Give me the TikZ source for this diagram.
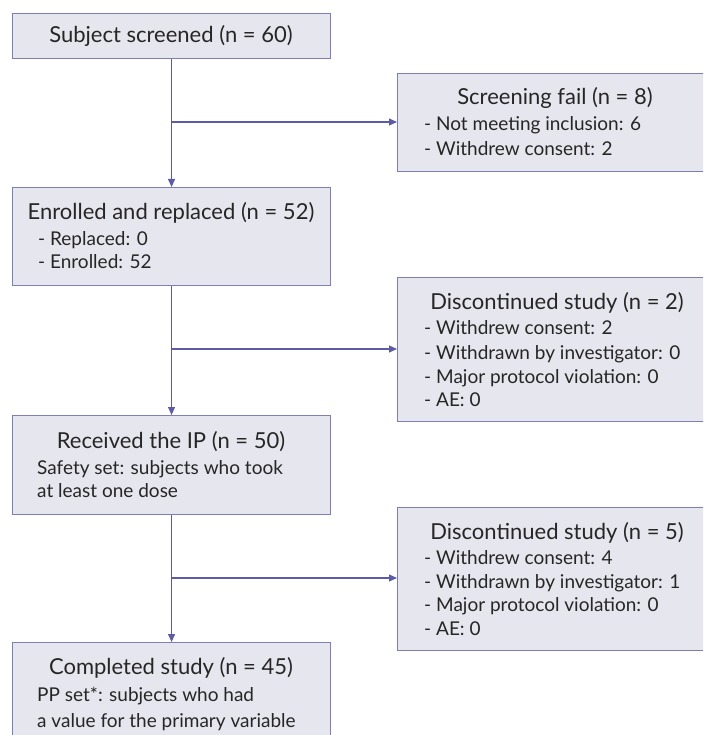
\documentclass[tikz,border=0pt]{standalone}
\usepackage{fontspec}
\setmainfont{Lato}
\usetikzlibrary{arrows.meta}
\definecolor{boxfill}{HTML}{E6E6EE}
\definecolor{boxline}{HTML}{7F7DB8}
\definecolor{arrcol}{HTML}{5E5BA6}
\definecolor{txt}{HTML}{262626}
\tikzset{
  box/.style={draw=boxline, fill=boxfill, line width=1.1pt, rectangle, inner sep=0pt},
  title/.style={anchor=base, text=txt, font=\fontsize{22}{24}\selectfont, inner sep=0pt},
  item/.style={anchor=base west, text=txt, font=\fontsize{19}{22}\selectfont, inner sep=0pt},
  arr/.style={draw=arrcol, line width=1.1pt, -{Triangle[length=8pt,width=7pt]}},
  ln/.style={draw=arrcol, line width=1.1pt}
}
\begin{document}
\begin{tikzpicture}[x=1pt,y=1pt]
\useasboundingbox (0,0) rectangle (703,-735);
\begin{scope}
\clip (0,0) rectangle (703,-735);
% left column boxes
\node[box, minimum width=318pt, minimum height=45pt, anchor=north west] (b1) at (12,-13) {};
\node[box, minimum width=318pt, minimum height=98pt, anchor=north west] (b2) at (12,-187) {};
\node[box, minimum width=318pt, minimum height=99pt, anchor=north west] (b3) at (12,-415) {};
\node[box, minimum width=318pt, minimum height=110pt, anchor=north west] (b4) at (12,-642) {};
% right column boxes
\node[box, minimum width=320pt, minimum height=98pt, anchor=north west] (r1) at (397,-73) {};
\node[box, minimum width=320pt, minimum height=144pt, anchor=north west] (r2) at (397,-277) {};
\node[box, minimum width=320pt, minimum height=143pt, anchor=north west] (r3) at (397,-507) {};
\end{scope}

% texts
\node[title] (t1) at (171,-43) {Subject screened (n = 60)};
\node[title] (t2) at (171,-219) {Enrolled and replaced (n = 52)};
\node[item] (t2a) at (38,-245) {- Replaced: 0};
\node[item] (t2b) at (38,-268) {- Enrolled: 52};
\node[title] (t3) at (171,-448) {Received the IP (n = 50)};
\node[item] (t3a) at (37,-474) {Safety set: subjects who took};
\node[item] (t3b) at (37,-497) {at least one dose};
\node[title] (t4) at (171,-674) {Completed study (n = 45)};
\node[item] (t4a) at (37,-701) {PP set*: subjects who had};
\node[item] (t4b) at (37,-727) {a value for the primary variable};

\node[title] (s1) at (555,-105) {Screening fail (n = 8)};
\node[item] (s1a) at (424,-131) {- Not meeting inclusion: 6};
\node[item] (s1b) at (424,-156) {- Withdrew consent: 2};

\node[title] (s2) at (557,-309) {Discontinued study (n = 2)};
\node[item] (s2a) at (424,-334) {- Withdrew consent: 2};
\node[item] (s2b) at (424,-359) {- Withdrawn by investigator: 0};
\node[item] (s2c) at (424,-383) {- Major protocol violation: 0};
\node[item] (s2d) at (424,-406) {- AE: 0};

\node[title] (s3) at (557,-539) {Discontinued study (n = 5)};
\node[item] (s3a) at (424,-564) {- Withdrew consent: 4};
\node[item] (s3b) at (424,-588) {- Withdrawn by investigator: 1};
\node[item] (s3c) at (424,-611) {- Major protocol violation: 0};
\node[item] (s3d) at (424,-635) {- AE: 0};

% connectors
\coordinate (j1) at (171,-122);
\coordinate (j2) at (171,-349);
\coordinate (j3) at (171,-578);
\draw[arr] (b1.south) -- (b2.north);
\draw[arr] (j1) -- (r1.west |- j1);
\draw[arr] (b2.south) -- (b3.north);
\draw[arr] (j2) -- (r2.west |- j2);
\draw[arr] (b3.south) -- (b4.north);
\draw[arr] (j3) -- (r3.west |- j3);
\end{tikzpicture}
\end{document}
